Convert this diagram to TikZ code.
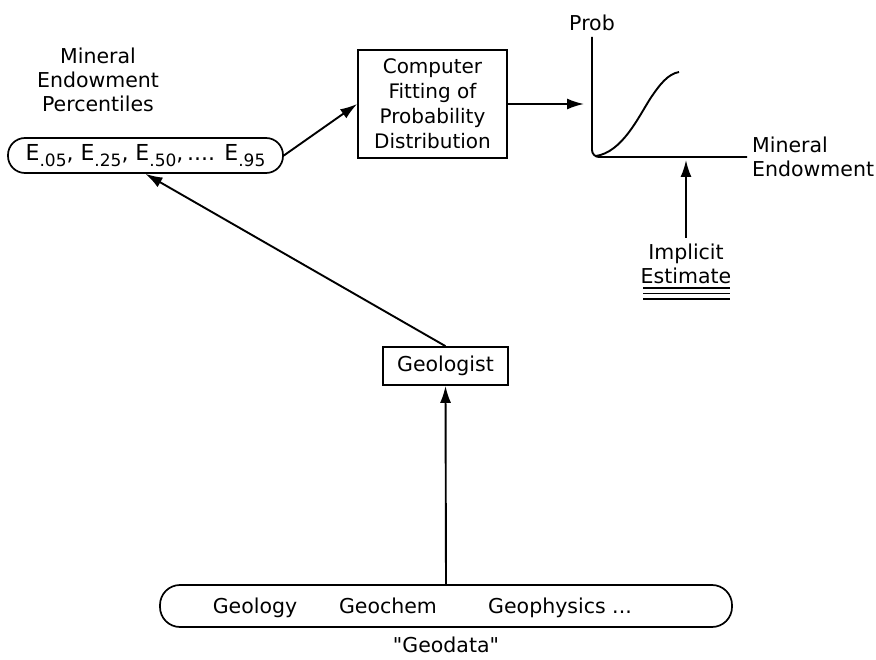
\documentclass[tikz,border=0pt]{standalone}
\usepackage{fontspec}
\setmainfont{DejaVu Sans}
\newfontfamily\rawf{DejaVu Sans}[Ligatures=TeXOff]
\usetikzlibrary{arrows.meta}
\newcommand{\sbs}[1]{\raisebox{-0.5ex}{\fontsize{17}{17}\selectfont #1}}
\begin{document}
\begin{tikzpicture}[x=1pt,y=-1pt,
  txt/.style={font=\fontsize{20.5}{24}\selectfont, inner sep=0pt},
  boxnode/.style={draw, line width=1.7pt, txt, align=center},
  arr/.style={line width=1.9pt, -{Latex[length=17pt,width=11pt]}},
  line/.style={line width=1.9pt}]
\useasboundingbox (0,0) rectangle (876,660);
% nodes
\node[txt, align=center] (lbl) at (98,80) {Mineral\\Endowment\\Percentiles};
\node[boxnode, rounded corners=17pt, minimum width=275pt, minimum height=35pt,
  font=\fontsize{22}{24}\selectfont] (e) at (145.5,155.5)
  {E\sbs{.05}, E\sbs{.25}, E\sbs{.50},\,.... E\sbs{.95}};
\node[boxnode, minimum width=149pt, minimum height=108pt, font=\fontsize{20}{25}\selectfont] (comp) at (432.5,104)
  {Computer\\Fitting of\\Probability\\Distribution};
\node[txt] (prob) at (592,23) {Prob};
\node[txt, anchor=west, align=left] (axlbl) at (752,157) {Mineral\\Endowment};
\node[txt, align=center] (impl) at (686,264) {Implicit\\Estimate};
\node[boxnode, minimum width=125pt, minimum height=38pt] (geol) at (445.5,366) {Geologist};
\node[boxnode, rounded corners=20pt, minimum width=572pt, minimum height=42pt] (geo) at (446,606) {};
\node[txt, anchor=base] (g1) at (255,613) {Geology};
\node[txt, anchor=base] (g2) at (388,613) {Geochem};
\node[txt, anchor=base] (g3) at (560,613) {Geophysics ...};
\node[txt] (gd) at (446,645) {{\rawf "}Geodata{\rawf "}};
% graph
\coordinate (ain) at (584,104);
\coordinate (aup) at (686,160);
\coordinate (istart) at (686,238);
\draw[line, rounded corners=7pt] (592,37) -- (592,157) -- (747,157);
\draw[line] (596,156) .. controls (622,152) and (638,118) .. (650,99)
  .. controls (660,84) and (668,74) .. (679,72);
% underlines
\draw[line width=1.5pt] (643,288) -- (730,288);
\draw[line width=1.5pt] (643,293.5) -- (730,293.5);
\draw[line width=1.5pt] (643,299) -- (730,299);
% connectors
\draw[arr] (e.east) -- (comp.west);
\draw[arr] (comp.east) -- (ain);
\draw[arr] (istart) -- (aup);
\draw[arr] (geol.north) -- (e.south);
\draw[arr] (geo.north) -- (geol.south);
\end{tikzpicture}
\end{document}
